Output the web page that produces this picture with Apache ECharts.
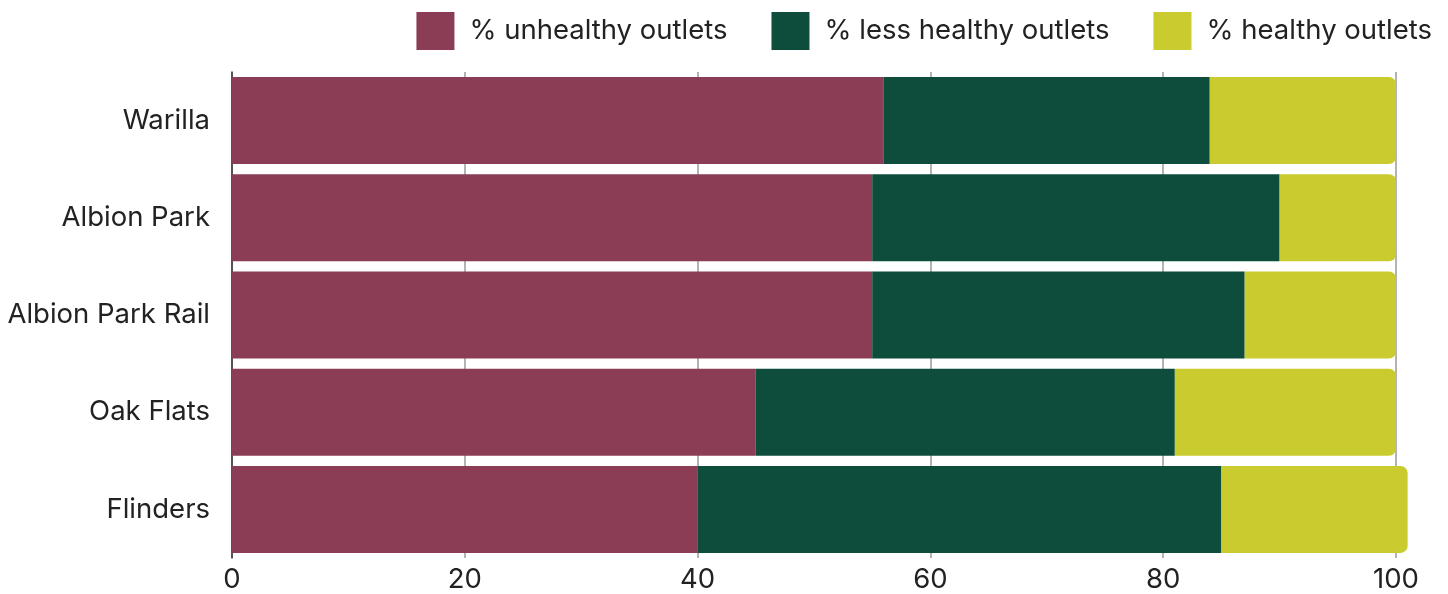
<!DOCTYPE html>
<html>
<head>
<meta charset="utf-8">
<script src="https://cdn.jsdelivr.net/npm/echarts@6/dist/echarts.min.js"></script>
<style>
html,body{margin:0;padding:0;background:#fff;}
#c{width:1448px;height:594px;}
</style>
</head>
<body>
<div id="c"></div>
<script>
var categories = ['Warilla', 'Albion Park', 'Albion Park Rail', 'Oak Flats', 'Flinders'];
var unhealthy = [56, 55, 55, 45, 40];
var lessHealthy = [28, 35, 32, 36, 45];
var healthy = [16, 10, 13, 19, 16];
var xTicks = [0, 20, 40, 60, 80, 100];

var FONT = 'Inter';
var FS = 27.5;
var chart = echarts.init(document.getElementById('c'));
chart.setOption({
  animation: false,
  textStyle: {fontFamily: FONT},
  legend: {
    top: 7, right: 11,
    itemWidth: 38, itemHeight: 38, itemGap: 44,
    icon: 'rect',
    textStyle: {fontSize: FS, color: '#222', fontFamily: FONT, padding: [0, 0, 0, 10]},
    data: ['% unhealthy outlets', '% less healthy outlets', '% healthy outlets']
  },
  grid: {left: 232, right: 52, top: 72, bottom: 36, containLabel: false},
  xAxis: {
    type: 'value', min: xTicks[0], max: xTicks[xTicks.length - 1], interval: 20,
    axisLine: {show: false}, axisTick: {show: false},
    splitLine: {show: true, lineStyle: {color: '#9a9a9a', width: 1.5}},
    axisLabel: {fontSize: FS, color: '#222', margin: 8, fontFamily: FONT}
  },
  yAxis: {
    type: 'category', data: categories, inverse: true,
    axisLine: {show: true, lineStyle: {color: '#333', width: 1.5}},
    axisTick: {show: false},
    axisLabel: {fontSize: FS, color: '#222', margin: 22, fontFamily: FONT, padding: [5, 0, 0, 0]}
  },
  series: [
    {name: '% unhealthy outlets', type: 'bar', stack: 's', data: unhealthy, barCategoryGap: '10.5%',
     itemStyle: {color: '#8C3D56'}},
    {name: '% less healthy outlets', type: 'bar', stack: 's', data: lessHealthy,
     itemStyle: {color: '#0E4D3C'}},
    {name: '% healthy outlets', type: 'bar', stack: 's', data: healthy, clip: false,
     itemStyle: {color: '#CACB2E', borderRadius: [0, 7, 7, 0]}}
  ]
});
</script>
</body>
</html>
